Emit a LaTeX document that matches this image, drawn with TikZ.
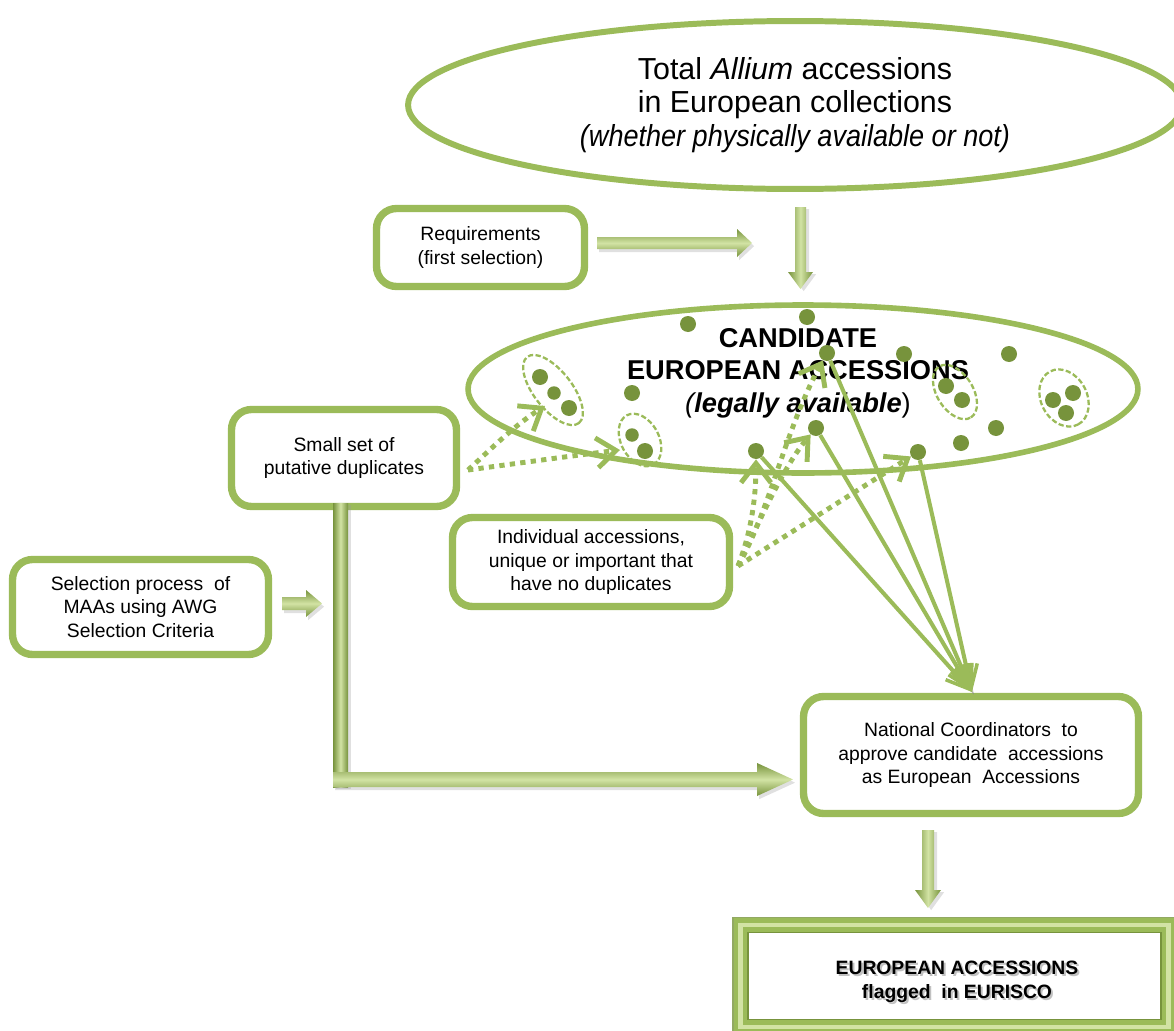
\documentclass[tikz,border=0pt]{standalone}
\usepackage{fontspec}
\setmainfont{Liberation Sans}
\newfontfamily\narrowsans[FakeStretch=0.89]{Liberation Sans}
\usetikzlibrary{arrows.meta,shapes.geometric,calc}
\definecolor{gr}{HTML}{9BBB59}
\definecolor{dk}{HTML}{77933C}
\definecolor{lt}{HTML}{D2E3A4}
\begin{document}
\begin{tikzpicture}[x=0.02cm,y=-0.02cm,
  gbox/.style={draw=gr, line width=4.2pt, rounded corners=0.4cm, fill=white, align=center,
    font=\fontsize{11}{13.6}\selectfont, inner sep=0pt},
  bigell/.style={ellipse, draw=gr, line width=3.4pt, inner sep=0pt, align=center},
  gdot/.style={circle, fill=dk, inner sep=0pt, minimum size=0.32cm},
  sdot/.style={gdot, minimum size=0.27cm},
  dgroup/.style={draw=gr, line width=1.3pt, dash pattern=on 3pt off 1.4pt},
  dotarrow/.style={draw=gr, line width=2.8pt, dash pattern=on 3pt off 3pt,
    -{Straight Barb[length=11pt,width=17pt,line width=2.8pt]}},
  solarrow/.style={draw=gr, line width=2.3pt, -{Straight Barb[length=13pt,width=13pt,line width=2pt]},
    preaction={draw=black!45, opacity=0.35, -, transform canvas={shift={(0.9pt,-1.1pt)}}}},
  fatH/.style={top color=dk, bottom color=dk, middle color=lt,
    preaction={fill=black!40, opacity=0.3, transform canvas={shift={(1.2pt,-1.8pt)}}}},
  fatV/.style={left color=dk, right color=dk, middle color=lt,
    preaction={fill=black!40, opacity=0.3, transform canvas={shift={(1.8pt,-1.2pt)}}}},
  txtshadow/.style={text=black!40, opacity=0.6}
]
\useasboundingbox (0,0) rectangle (1174,1031);

% ---------- top ellipse ----------
\node[bigell, minimum width=15.48cm, minimum height=3.36cm,
      font=\fontsize{17.3}{19}\selectfont] (total) at (795,105)
  {Total \textit{Allium} accessions\\in European collections\\{\narrowsans\itshape (whether physically available or not)}};

% ---------- candidate ellipse ----------
\node[bigell, line width=3.2pt, minimum width=13.4cm, minimum height=3.36cm] (cand) at (803,389) {};
\node[align=center, inner sep=0pt, font=\fontsize{15.5}{18.6}\selectfont\bfseries] (candtxt) at (798,373)
  {CANDIDATE\\EUROPEAN ACCESSIONS\\{\mdseries\itshape(}{\itshape legally available}{\mdseries)}};

% ---------- boxes ----------
\node[gbox, minimum width=4.16cm, minimum height=1.56cm] (req) at (480.5,247.5)
  {Requirements\\(first selection)};
\node[gbox, minimum width=4.5cm, minimum height=1.94cm] (small) at (344,458)
  {Small set of\\putative duplicates};
\node[gbox, minimum width=5.12cm, minimum height=1.9cm] (sel) at (140.5,607)
  {Selection process\ \ of\\MAAs using AWG\\Selection Criteria};
\node[gbox, minimum width=5.54cm, minimum height=1.78cm] (indiv) at (591,562)
  {Individual accessions,\\unique or important that\\have no duplicates};
\node[gbox, minimum width=6.7cm, minimum height=2.34cm] (nat) at (971,755)
  {National Coordinators\ \ to\\approve candidate\ \ accessions\\as European\ \ Accessions};

% ---------- bottom framed box ----------
\node[draw=gr, line width=8.5pt, fill=white, minimum width=8.56cm, minimum height=2.03cm,
      inner sep=0pt, outer sep=0pt] (eur) at (954.5,976) {};
\draw[lt, line width=2.4pt] (eur.north west) rectangle (eur.south east);
\draw[dk, line width=0.8pt] ($(eur.north west)+(7.5,7.5)$) rectangle ($(eur.south east)+(-7.5,-7.5)$);
\draw[dk!80, line width=0.8pt] ($(eur.north west)+(-7.5,-7.5)$) rectangle ($(eur.south east)+(7.5,7.5)$);
\node[align=center, inner sep=0pt, font=\fontsize{11}{13.4}\selectfont\bfseries, txtshadow]
  (eurshadow) at ($(957,982)+(2,2)$) {EUROPEAN ACCESSIONS\\flagged\ \ in EURISCO};
\node[align=center, inner sep=0pt, font=\fontsize{11}{13.4}\selectfont\bfseries]
  (eurtxt) at (957,982) {EUROPEAN ACCESSIONS\\flagged\ \ in EURISCO};

% ---------- fat 3D arrows ----------
\shade[fatH] (597,237)--(737,237)--(737,229)--(752,243)--(737,257)--(737,249)--(597,249)--cycle;
\shade[fatV] (795,207)--(806,207)--(806,272)--(813,272)--(800.5,289)--(788,272)--(795,272)--cycle;
\shade[fatH] (282,597)--(306,597)--(306,590)--(322,603.5)--(306,617)--(306,610)--(282,610)--cycle;
\shade[fatV] (333,503) rectangle (348,787);
\shade[fatH] (333,772)--(757,772)--(757,763)--(793,779.5)--(757,796)--(757,787)--(333,787)--cycle;
\shade[fatV] (922,830)--(934,830)--(934,890)--(941,890)--(928,908)--(915,890)--(922,890)--cycle;

% ---------- dashed groups ----------
\draw[dgroup, rotate around={-52:(553,390)}] (553,390) ellipse [x radius=0.84cm, y radius=0.38cm];
\draw[dgroup, rotate around={-62:(640,440)}] (640,440) ellipse [x radius=0.56cm, y radius=0.38cm];
\draw[dgroup, rotate around={-58:(955,392)}] (955,392) ellipse [x radius=0.6cm, y radius=0.36cm];
\draw[dgroup, rotate around={-62:(1064,398)}] (1064,398) ellipse [x radius=0.6cm, y radius=0.46cm];

% ---------- dots ----------
\node[gdot] (d1) at (688,324) {};
\node[gdot] (d2) at (807,317) {};
\node[gdot] (d3) at (827,353) {};
\node[gdot] (d4) at (904,354) {};
\node[gdot] (d5) at (1009,354) {};
\node[gdot] (d6) at (632,393) {};
\node[gdot] (d7) at (540,377) {};
\node[sdot] (d8) at (554,393) {};
\node[gdot] (d9) at (569,408) {};
\node[sdot] (d10) at (632,435) {};
\node[gdot] (d11) at (645,451) {};
\node[gdot] (d12) at (756,451) {};
\node[gdot] (d13) at (816,428) {};
\node[gdot] (d14) at (946,386) {};
\node[gdot] (d15) at (962,400) {};
\node[gdot] (d16) at (1053,400) {};
\node[gdot] (d17) at (1073,393) {};
\node[gdot] (d18) at (1066,413) {};
\node[gdot] (d19) at (996,428) {};
\node[gdot] (d20) at (961,443) {};
\node[gdot] (d21) at (918,452) {};

% ---------- dotted arrows ----------
\coordinate (s0) at (468,470);
\draw[dotarrow] (s0) .. controls (492,448) and (515,425) .. (545,406);
\draw[dotarrow] (s0) .. controls (520,463) and (570,456) .. (620,450);

\coordinate (i0) at (738,566);
\draw[dotarrow] (i0) .. controls (752,530) and (756,495) .. (d12);
\draw[dotarrow] (i0) .. controls (770,510) and (785,430) .. (d3);
\draw[dotarrow] (i0) .. controls (762,515) and (785,465) .. (d13);
\draw[dotarrow] (i0) -- (d21);

% ---------- solid arrows to National Coordinators ----------
\coordinate (ntip) at (972,692);
\draw[solarrow] (d12) -- (ntip);
\draw[solarrow] (d13) -- (ntip);
\draw[solarrow] (d3) -- (ntip);
\draw[solarrow] (d21) -- (ntip);
\end{tikzpicture}
\end{document}
